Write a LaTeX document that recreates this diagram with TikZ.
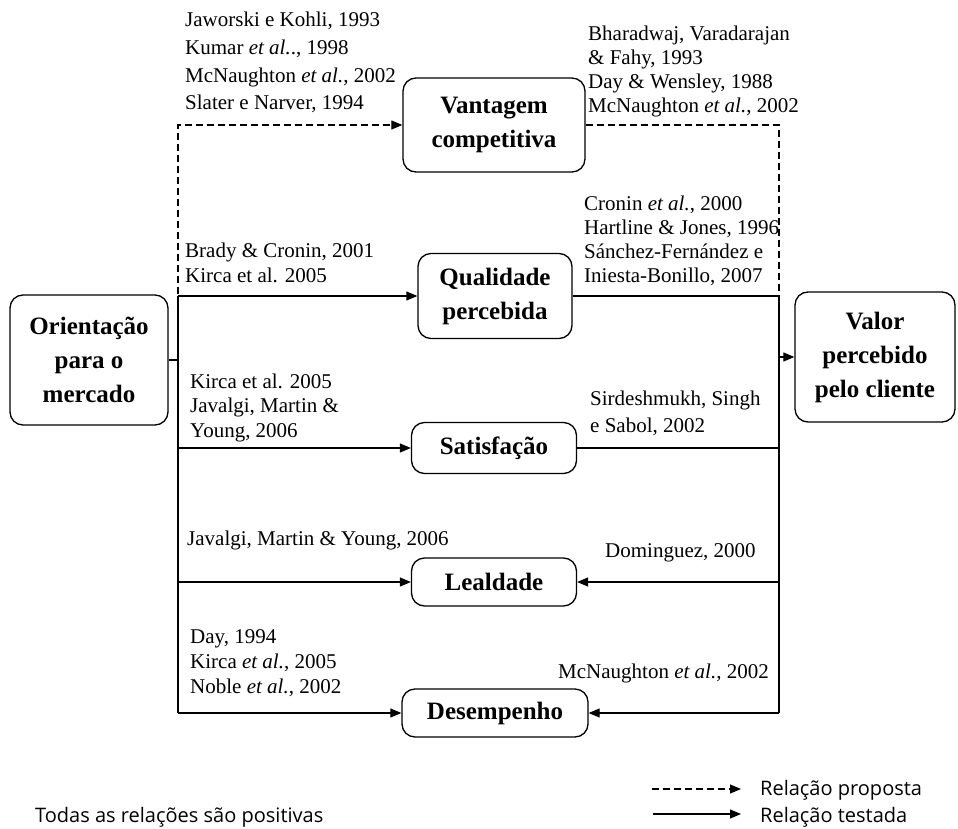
\documentclass[tikz,border=0pt]{standalone}
\usepackage{fontspec}
\setmainfont{Liberation Serif}
\newfontfamily\legenda{Open Sans}
\usetikzlibrary{arrows.meta}

\begin{document}
\begin{tikzpicture}[x=1pt, y=-1pt, >={Triangle[length=11pt,width=9pt]},
        caixa/.style={draw, line width=1.3pt, rounded corners=13pt, align=center, inner sep=0pt,
            font=\fontsize{25}{34}\selectfont\bfseries},
        refs/.style={anchor=base west, align=left, inner sep=0pt, font=\fontsize{21}{#1}\selectfont},
        refs/.default=24.5,
        linha/.style={line width=1.1pt},
        tracejada/.style={linha, dash pattern=on 7pt off 4pt},
        nota/.style={anchor=west, inner sep=0pt, font=\legenda\fontsize{20}{24}\selectfont}]
        \useasboundingbox (0,0) rectangle (958,829);

        \node[caixa, minimum width=158, minimum height=130] (orient) at (89,360) {Orientação\\para o\\mercado};
        \node[caixa, minimum width=182, minimum height=94] (vant) at (494,125) {Vantagem\\competitiva};
        \node[caixa, minimum width=154, minimum height=85] (qual) at (495,296) {Qualidade\\percebida};
        \node[caixa, minimum width=165, minimum height=51] (satis) at (494,448) {Satisfação};
        \node[caixa, minimum width=165, minimum height=48] (leal) at (494,582) {Lealdade};
        \node[caixa, minimum width=186, minimum height=48] (desemp) at (495,713) {Desempenho};
        \node[caixa, minimum width=160, minimum height=130] (valor) at (875,357) {Valor\\percebido\\pelo cliente};

        \coordinate (lj) at (178,360);
        \coordinate (lb) at (178,713);
        \coordinate (rj) at (779,357);
        \coordinate (rb) at (779,713);

        \draw[linha] (orient.east) -- (lj);
        \draw[tracejada, ->] (lj) |- (vant.west);
        \draw[linha] (lj |- qual.west) -- (lb);
        \draw[linha, ->] (lj |- qual.west) -- (qual.west);
        \draw[linha, ->] (lj |- satis.west) -- (satis.west);
        \draw[linha, ->] (lj |- leal.west) -- (leal.west);
        \draw[linha, ->] (lb) -- (desemp.west);

        \draw[tracejada] (vant.east) -| (rj);
        \draw[linha] (qual.east) -| (rb);
        \draw[linha] (satis.east) -- (rj |- satis.east);
        \draw[linha, ->] (rj) -- (valor.west);
        \draw[linha, ->] (rj |- leal.east) -- (leal.east);
        \draw[linha, ->] (rb) -- (desemp.east);

        \node[refs=27.7] (rvant1) at (185,110) {Jaworski e Kohli, 1993\\Kumar \textit{et al.}., 1998\\McNaughton \textit{et al.}, 2002\\Slater e Narver, 1994};
        \node[refs=24.3] (rvant2) at (588,113) {Bharadwaj, Varadarajan\\\& Fahy, 1993\\Day \& Wensley, 1988\\McNaughton \textit{et al.}, 2002};
        \node[refs=24] (rqual2) at (584,282) {Cronin \textit{et al.}, 2000\\Hartline \& Jones, 1996\\Sánchez-Fernández e\\Iniesta-Bonillo, 2007};
        \node[refs=25] (rqual1) at (185,282) {Brady \& Cronin, 2001\\Kirca et al. 2005};
        \node[refs] (rsatis1) at (190,437) {Kirca et al. 2005\\Javalgi, Martin \&\\Young, 2006};
        \node[refs=27] (rsatis2) at (590,432) {Sirdeshmukh, Singh\\e Sabol, 2002};
        \node[refs] (rleal1) at (187,545) {Javalgi, Martin \& Young, 2006};
        \node[refs] (rleal2) at (605,557) {Dominguez, 2000};
        \node[refs=25] (rdes1) at (190,693) {Day, 1994\\Kirca \textit{et al.}, 2005\\Noble \textit{et al.}, 2002};
        \node[refs] (rdes2) at (558,678) {McNaughton \textit{et al.}, 2002};

        \node[nota] (todas) at (35,817) {Todas as relações são positivas};
        \node[nota] (lprop) at (760,790) {Relação proposta};
        \node[nota] (ltest) at (760,817) {Relação testada};
        \coordinate (lp) at (652,789);
        \coordinate (lt) at (653,814);
        \draw[tracejada, ->] (lp) -- (lp -| 741,0);
        \draw[linha, ->] (lt) -- (lt -| 741,0);
    \end{tikzpicture}
\end{document}
